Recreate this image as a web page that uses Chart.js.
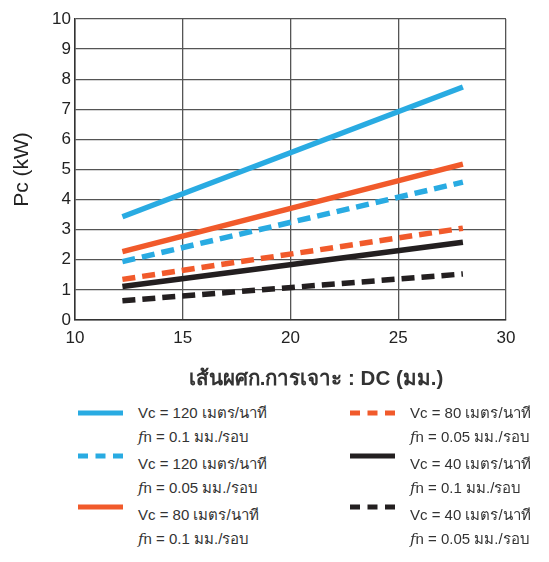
<!DOCTYPE html>
<html>
<head>
<meta charset="utf-8">
<script src="https://cdn.jsdelivr.net/npm/chart.js@4"></script>
<style>
  html, body { margin: 0; padding: 0; background: #fff; }
  #wrap { position: relative; width: 549px; height: 562px; overflow: hidden; font-family: "Liberation Sans", Arial, "Noto Sans", sans-serif; }
  #c { position: absolute; left: 0; top: 0; }
  .sample { position: absolute; }
  .txt { position: absolute; font-size: 15px; color: #333; white-space: nowrap; line-height: 18px; }
  .txt i { font-family: "DejaVu Serif", "Liberation Serif", serif; font-style: italic; }
  #xtitle { position: absolute; left: 116px; width: 400px; text-align: center; top: 365px; font-size: 20.5px; font-weight: bold; color: #333; line-height: 26px; white-space: nowrap; }
</style>
</head>
<body>
<div id="wrap">
  <canvas id="c" width="549" height="400"></canvas>
  <div id="xtitle"></div>
</div>
<script>
// ---- data ----
const dcValues   = [12.2, 28];          // x: เส้นผศก.การเจาะ DC (มม.)
const vc120fn01  = [3.43, 7.74];
const vc120fn005 = [1.94, 4.58];
const vc80fn01   = [2.27, 5.18];
const vc80fn005  = [1.35, 3.05];
const vc40fn01   = [1.11, 2.58];
const vc40fn005  = [0.64, 1.53];

const vcLabels = ['Vc = 120 เมตร/นาที', 'Vc = 120 เมตร/นาที', 'Vc = 80 เมตร/นาที',
                  'Vc = 80 เมตร/นาที', 'Vc = 40 เมตร/นาที', 'Vc = 40 เมตร/นาที'];
const fnLabels = ['0.1 มม./รอบ', '0.05 มม./รอบ', '0.1 มม./รอบ',
                  '0.05 มม./รอบ', '0.1 มม./รอบ', '0.05 มม./รอบ'];
const xTitle = 'เส้นผศก.การเจาะ : DC (มม.)';
const yTitle = 'Pc (kW)';
const xTicks = [10, 15, 20, 25, 30];
const yTicks = [0, 1, 2, 3, 4, 5, 6, 7, 8, 9, 10];

const BLUE = '#29abe2', ORANGE = '#f15a2b', BLACK = '#231f20';
const seriesValues = [vc120fn01, vc120fn005, vc80fn01, vc80fn005, vc40fn01, vc40fn005];
const seriesColors = [BLUE, BLUE, ORANGE, ORANGE, BLACK, BLACK];
const seriesDashed = [false, true, false, true, false, true];

const datasets = seriesValues.map((vals, i) => ({
  label: vcLabels[i] + ' fn = ' + fnLabels[i],
  data: dcValues.map((x, j) => ({ x: x, y: vals[j] })),
  borderColor: seriesColors[i],
  backgroundColor: seriesColors[i],
  borderWidth: 5.5,
  borderDash: seriesDashed[i] ? [13, 7] : [],
  borderCapStyle: 'butt',
  pointRadius: 0,
  tension: 0,
  fill: false
}));

const tickFont = { size: 17, family: '"Liberation Sans", Arial, sans-serif' };

const chart = new Chart(document.getElementById('c'), {
  type: 'line',
  data: { datasets: datasets },
  options: {
    responsive: false,
    animation: false,
    devicePixelRatio: 1,
    layout: { padding: { left: 0, right: 43, top: 19, bottom: 0 } },
    plugins: { legend: { display: false }, tooltip: { enabled: false } },
    scales: {
      x: {
        type: 'linear',
        min: 10, max: 30,
        afterBuildTicks: s => { s.ticks = xTicks.map(v => ({ value: v })); },
        afterFit: s => { s.height = 80; },
        grid: { color: '#555', lineWidth: 1.3, drawTicks: false },
        border: { color: '#333', width: 1.5 },
        ticks: { color: '#222', font: tickFont, padding: 8, maxRotation: 0 },
        title: { display: false }
      },
      y: {
        min: 0, max: 10,
        afterBuildTicks: s => { s.ticks = yTicks.map(v => ({ value: v })); },
        afterFit: s => { s.width = 75; },
        grid: { color: '#555', lineWidth: 1.3, drawTicks: false },
        border: { color: '#333', width: 1.5 },
        ticks: { color: '#222', font: tickFont, padding: 4 },
        title: {
          display: true,
          text: yTitle,
          color: '#222',
          font: { size: 21, family: '"Liberation Sans", Arial, sans-serif' },
          padding: { top: 10, bottom: 0 }
        }
      }
    }
  }
});

document.getElementById('xtitle').textContent = xTitle;

// ---- HTML legend built from chart datasets ----
const wrap = document.getElementById('wrap');
const colX = [{ sample: 78, text: 138 }, { sample: 350, text: 410 }];
const rowY = [{ sample: 413, l1: 413, l2: 437 }, { sample: 456, l1: 464, l2: 488 }, { sample: 507, l1: 515, l2: 539 }];
chart.data.datasets.forEach((ds, i) => {
  const col = colX[Math.floor(i / 3)];
  const row = rowY[i % 3];
  const svgNS = 'http://www.w3.org/2000/svg';
  const svg = document.createElementNS(svgNS, 'svg');
  svg.setAttribute('width', '46');
  svg.setAttribute('height', '10');
  svg.setAttribute('class', 'sample');
  svg.style.left = col.sample + 'px';
  svg.style.top = (row.sample - 5) + 'px';
  const ln = document.createElementNS(svgNS, 'line');
  ln.setAttribute('x1', '0'); ln.setAttribute('x2', '45');
  ln.setAttribute('y1', '5'); ln.setAttribute('y2', '5');
  ln.setAttribute('stroke', ds.borderColor);
  ln.setAttribute('stroke-width', '5');
  if (ds.borderDash.length) ln.setAttribute('stroke-dasharray', '10 7.5');
  svg.appendChild(ln);
  wrap.appendChild(svg);

  const t1 = document.createElement('div');
  t1.className = 'txt';
  t1.style.left = col.text + 'px';
  t1.style.top = (row.l1 - 9) + 'px';
  t1.textContent = vcLabels[i];
  wrap.appendChild(t1);

  const t2 = document.createElement('div');
  t2.className = 'txt';
  t2.style.left = col.text + 'px';
  t2.style.top = (row.l2 - 9) + 'px';
  t2.innerHTML = '<i>f</i>n = ' + fnLabels[i];
  wrap.appendChild(t2);
});
</script>
</body>
</html>
